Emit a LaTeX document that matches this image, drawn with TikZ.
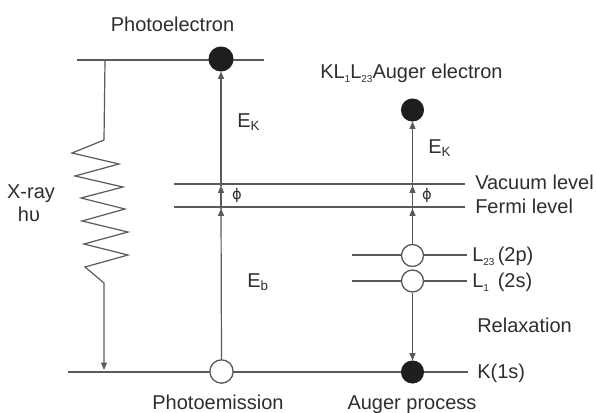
\documentclass[tikz,border=0pt]{standalone}
\usepackage{fontspec}
\setmainfont{Liberation Sans}
\newfontfamily\dejavu{DejaVu Sans}
\usetikzlibrary{arrows.meta}
\definecolor{ln}{HTML}{5A5A5A}
\definecolor{tx}{HTML}{2E2E2E}
\definecolor{dk}{HTML}{1E1E1E}
\newcommand\subA[1]{\raisebox{-0.35ex}{\fontsize{10}{10}\selectfont #1}}
\newcommand\subB[1]{\raisebox{-0.45ex}{\fontsize{7.5}{8}\selectfont #1}}
\begin{document}
\begin{tikzpicture}[x=0.75pt,y=-0.75pt,
  level/.style={draw=ln,line width=1.1pt},
  arr/.style={draw=ln,line width=0.9pt,-{Triangle[length=5.5pt,width=4.5pt]}},
  fullc/.style={circle,fill=dk,draw=dk,line width=0.8pt,inner sep=0pt},
  openc/.style={circle,fill=white,draw=ln,line width=1pt,inner sep=0pt},
  lbl/.style={text=tx,font=\fontsize{15}{18}\selectfont,inner sep=0pt},
  phil/.style={text=tx,font=\dejavu\fontsize{11}{12}\selectfont,inner sep=0pt}]
\path[use as bounding box,fill=white] (0,0) rectangle (597,412);

% level lines
\coordinate (topL) at (77,60);   \coordinate (topR) at (264,60);
\coordinate (vacL) at (174,184); \coordinate (vacR) at (465,184);
\coordinate (ferL) at (174,207); \coordinate (ferR) at (465,207);
\coordinate (l23L) at (352,255); \coordinate (l23R) at (467,255);
\coordinate (l1L)  at (352,281); \coordinate (l1R)  at (467,281);
\coordinate (botL) at (68,372);  \coordinate (botR) at (468,372);
\draw[level] (topL) -- (topR);
\draw[level] (vacL) -- (vacR);
\draw[level] (ferL) -- (ferR);
\draw[level] (l23L) -- (l23R);
\draw[level] (l1L) -- (l1R);
\draw[level] (botL) -- (botR);

% circles
\node[fullc,minimum size=18pt] (pe) at (221,59) {};
\node[openc,minimum size=17.5pt] (pem) at (221.5,371.5) {};
\node[fullc,minimum size=16.5pt] (ae) at (412.5,110) {};
\node[openc,minimum size=16.5pt] (c23) at (412.5,255.5) {};
\node[openc,minimum size=16.5pt] (c1) at (412.5,281) {};
\node[fullc,minimum size=16.5pt] (ck) at (412.5,372) {};

% crossing points
\coordinate (lf) at (221,208.5);
\coordinate (lv) at (221,185.5);
\coordinate (rf) at (412.5,208.5);
\coordinate (rv) at (412.5,185.5);

% left arrows
\draw[arr] (pem.north) -- (lf);
\draw[arr] (lf) -- (lv);
\draw[arr] (lv) -- (pe.south);
% right arrows
\draw[arr] (c23.north) -- (rf);
\draw[arr] (rf) -- (rv);
\draw[arr] (rv) -- (ae.south);
\draw[arr] (c1.south) -- (ck.north);

% X-ray zigzag
\coordinate (z0) at (105,60);
\coordinate (z1) at (104,370);
\draw[arr] (z0) -- (104,140) -- (72,153) -- (119,164) -- (75,176) -- (123,187)
  -- (81,198) -- (125,209) -- (82,221) -- (128,232) -- (84,244) -- (128,255)
  -- (85,267) -- (104,283) -- (z1);

% labels
\node[lbl,anchor=base] (tpe) at (172.5,31) {Photoelectron};
\node[lbl,anchor=base west] (tae) at (320,78) {KL\subB{1}L\subB{23}Auger electron};
\node[lbl,anchor=base west] (ek1) at (237,127) {E\subA{K}};
\node[lbl,anchor=base west] (eb) at (247,287) {E\subA{b}};
\node[lbl,anchor=base west] (ek2) at (428,153) {E\subA{K}};
\node[phil] (phi1) at (237,195) {ϕ};
\node[phil] (phi2) at (427,195) {ϕ};
\node[lbl,anchor=base] (xr) at (31,198) {X-ray};
\node[lbl,anchor=base] (hv) at (29,221) {hυ};
\node[lbl,anchor=base west] (tv) at (475,189) {Vacuum level};
\node[lbl,anchor=base west] (tf) at (475,213) {Fermi level};
\node[lbl,anchor=base west] (t23) at (472,261) {\makebox[15pt][l]{L\subB{23}} (2p)};
\node[lbl,anchor=base west] (t1) at (472,287) {\makebox[15pt][l]{L\subB{1}} (2s)};
\node[lbl,anchor=base west] (trel) at (477,332) {Relaxation};
\node[lbl,anchor=base west] (tk) at (477,378) {K(1s)};
\node[lbl,anchor=base] (tpem) at (218,409) {Photoemission};
\node[lbl,anchor=base] (tap) at (412,409) {Auger process};
\end{tikzpicture}
\end{document}
